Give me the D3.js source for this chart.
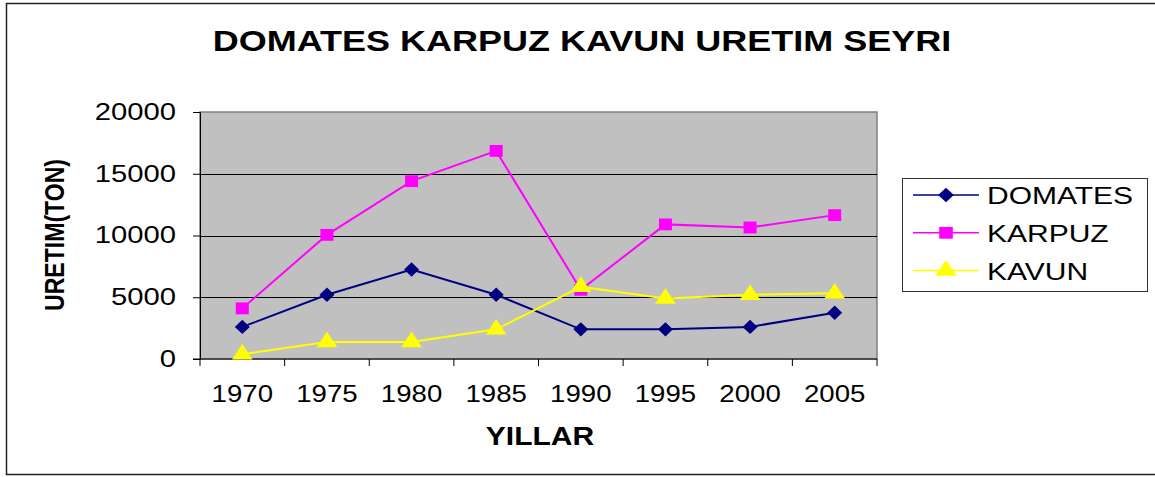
<!DOCTYPE html>
<html>
<head>
<meta charset="utf-8">
<script src="https://cdn.jsdelivr.net/npm/d3@7"></script>
<style>
  body { margin: 0; background: #fff; }
  text { font-family: "Liberation Sans", Arial, sans-serif; }
</style>
</head>
<body>
<div id="chart"></div>
<script>
var years = ["1970", "1975", "1980", "1985", "1990", "1995", "2000", "2005"];
var domates = [2600, 5200, 7250, 5200, 2400, 2400, 2600, 3750];
var karpuz = [4100, 10050, 14400, 16850, 5600, 10900, 10650, 11650];
var kavun = [380, 1380, 1380, 2400, 5850, 4900, 5200, 5320];
var yTicks = [0, 5000, 10000, 15000, 20000];

var series = [
    {name: "DOMATES", values: domates, color: "#000080", shape: "diamond"},
    {name: "KARPUZ", values: karpuz, color: "#ff00ff", shape: "square"},
    {name: "KAVUN", values: kavun, color: "#ffff00", shape: "triangle"}
];

var width = 1155, height = 477;
var plot = {left: 200, right: 877, top: 112, bottom: 359};
var sx = 1.2; // the original picture is a little wider than tall text would be

var svg = d3.select("#chart").append("svg").attr("width", width).attr("height", height);

// widen text horizontally to match the reference
var stretch = (sel, k) => {
    sel.each(function() {
        var w = this.getComputedTextLength();
        d3.select(this).attr("textLength", w * k).attr("lengthAdjust", "spacingAndGlyphs");
    });
};

// outer frame (right edge lies outside the picture)
svg.append("path")
    .attr("d", "M1160,3.5 H6.5 V474.5 H1160")
    .attr("fill", "none").attr("stroke", "#222").attr("stroke-width", 1.5);

var x = d3.scaleBand().domain(years).range([plot.left, plot.right]);
var y = d3.scaleLinear().domain([0, 20000]).range([plot.bottom, plot.top]);

svg.append("rect")
    .attr("x", plot.left).attr("y", plot.top)
    .attr("width", plot.right - plot.left).attr("height", plot.bottom - plot.top)
    .attr("fill", "#c0c0c0").attr("stroke", "#808080").attr("stroke-width", 1.5);

svg.append("g").selectAll("line")
    .data(yTicks.slice(1, 4)).enter().append("line")
    .attr("x1", plot.left).attr("x2", plot.right)
    .attr("y1", function(d){ return Math.round(y(d)) + 0.5 })
    .attr("y2", function(d){ return Math.round(y(d)) + 0.5 })
    .attr("stroke", "#000").attr("stroke-width", 1);

// y axis
var yAxis = svg.append("g")
    .attr("transform", "translate(" + plot.left + ",0)")
    .call(d3.axisLeft(y).tickValues(yTicks).tickSize(7).tickPadding(17).tickFormat(d3.format("d")));
yAxis.selectAll("path, line").attr("stroke", "#000");
yAxis.selectAll("text").attr("font-size", 23).attr("fill", "#000")
    .style("font-family", "Liberation Sans, Arial, sans-serif");
stretch(yAxis.selectAll("text"), 1.27);

// x axis: ticks at band boundaries, labels at band centres
var xAxis = svg.append("g").attr("transform", "translate(0," + plot.bottom + ")");
xAxis.append("line").attr("x1", plot.left - 7).attr("x2", plot.right).attr("stroke", "#000");
xAxis.selectAll("line.tick")
    .data(years.concat(["end"])).enter().append("line")
    .attr("class", "tick")
    .attr("x1", function(d, i){ return plot.left + i * x.step() })
    .attr("x2", function(d, i){ return plot.left + i * x.step() })
    .attr("y1", 0).attr("y2", 7).attr("stroke", "#000");
var xLabels = xAxis.selectAll("text")
    .data(years).enter().append("text")
    .attr("x", function(d){ return x(d) + x.bandwidth() / 2 })
    .attr("y", 43)
    .attr("text-anchor", "middle").attr("font-size", 23)
    .text(function(d){ return d });
stretch(xLabels, 1.2);

// series
var line = d3.line()
    .x(function(d, i){ return x(years[i]) + x.bandwidth() / 2 })
    .y(function(d){ return y(d) });

var symbols = {
    diamond: d3.symbol().type(d3.symbolDiamond).size(60),
    square: d3.symbol().type(d3.symbolSquare).size(140),
    triangle: d3.symbol().type(d3.symbolTriangle).size(140)
};
var widen = {diamond: 1.8, square: 1.1, triangle: 1.15};

series.forEach(function(s) {
    svg.append("path")
        .datum(s.values)
        .attr("d", line)
        .attr("fill", "none").attr("stroke", s.color).attr("stroke-width", 2);
});
series.forEach(function(s) {
    svg.append("g").selectAll("path")
        .data(s.values).enter().append("path")
        .attr("transform", function(d, i){
            return "translate(" + (x(years[i]) + x.bandwidth() / 2) + "," + y(d) + ") scale(" + widen[s.shape] + ",1)";
        })
        .attr("d", symbols[s.shape]())
        .attr("fill", s.color);
});

// title
var title = svg.append("text")
    .attr("x", 582).attr("y", 51)
    .attr("text-anchor", "middle").attr("font-size", 30).attr("font-weight", "bold")
    .text("DOMATES KARPUZ KAVUN URETIM SEYRI");
stretch(title, sx);

// axis titles
var xTitle = svg.append("text")
    .attr("x", 540).attr("y", 445)
    .attr("text-anchor", "middle").attr("font-size", 25).attr("font-weight", "bold")
    .text("YILLAR");
stretch(xTitle, sx);

svg.append("text")
    .attr("transform", "translate(64,235) scale(1.2,1) rotate(-90)")
    .attr("text-anchor", "middle").attr("font-size", 23).attr("font-weight", "bold")
    .attr("textLength", 152).attr("lengthAdjust", "spacingAndGlyphs")
    .text("URETIM(TON)");

// legend
var legend = svg.append("g");
legend.append("rect")
    .attr("x", 902.5).attr("y", 178.5).attr("width", 245).attr("height", 113)
    .attr("fill", "#fff").attr("stroke", "#333").attr("stroke-width", 1);

var items = legend.selectAll("g.item")
    .data(series).enter().append("g")
    .attr("class", "item")
    .attr("transform", function(d, i){ return "translate(0," + (195 + i * 37.8) + ")" });
items.append("line")
    .attr("x1", 913).attr("x2", 979).attr("y1", 0).attr("y2", 0)
    .attr("stroke", function(d){ return d.color }).attr("stroke-width", 1.5);
items.append("path")
    .attr("transform", function(d){ return "translate(946,0) scale(" + (widen[d.shape] * 1.05) + ",1)" })
    .attr("d", function(d){ return symbols[d.shape]() })
    .attr("fill", function(d){ return d.color });
var legendText = items.append("text")
    .attr("x", 987).attr("y", 9)
    .attr("font-size", 24)
    .text(function(d){ return d.name });
stretch(legendText, 1.25);
</script>
</body>
</html>
